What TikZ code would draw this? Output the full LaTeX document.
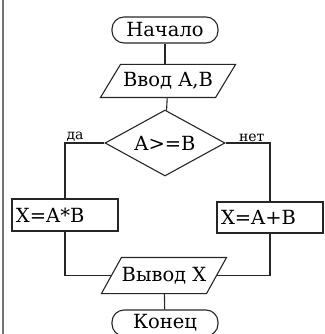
\documentclass[tikz,border=0pt]{standalone}
\usepackage{fontspec}
\setmainfont{DejaVu Serif}
\usetikzlibrary{shapes.geometric}

\begin{document}
\begin{tikzpicture}[x=1pt,y=-1pt,line width=1.1pt,draw=black!85,
  font=\fontsize{19.5}{22}\selectfont,
  term/.style={draw,rectangle,rounded corners=12pt,minimum width=106pt,minimum height=26pt,inner sep=0pt},
  io/.style={minimum width=114pt,minimum height=32pt,inner sep=0pt,
    append after command={\pgfextra{\draw ([xshift=10pt]\tikzlastnode.north west)
      -- ([xshift=10pt]\tikzlastnode.north east) -- ([xshift=-10pt]\tikzlastnode.south east)
      -- ([xshift=-10pt]\tikzlastnode.south west) -- cycle;}}},
  cond/.style={draw,diamond,aspect=1.8,minimum width=120pt,minimum height=66pt,inner sep=0pt},
  proc/.style={draw,rectangle,text width=98pt,align=left,inner sep=4pt,minimum height=32pt},
  lbl/.style={font=\fontsize{14}{16}\selectfont,inner sep=1pt}]
\useasboundingbox (0,0) rectangle (324,334);
\clip (0,0) rectangle (324,334);
\draw[black!55,line width=2pt] (2.5,0) -- (2.5,334);
% blocks
\node[term] (start) at (165,30) {Начало};
\node[io] (input) at (168,81) {Ввод A,B};
\node[cond] (check) at (165,143) {A>=B};
\node[proc] (mult) at (65,215) {X=A*B};
\node[proc,minimum height=31pt] (sum) at (270,217.5) {X=A+B};
\node[io,minimum width=104pt,minimum height=35pt] (output) at (164,275.5) {Вывод X};
\node[term] (finish) at (165,323) {Конец};
% connectors
\draw (start) -- (start |- input.north);
\draw (input) -- (check);
\draw (check.west) -| node[lbl,pos=0.5,anchor=south west] {да} (mult.north);
\draw (check.east) -| node[lbl,pos=0.5,anchor=south east,xshift=-4pt] {нет} (sum.north);
\draw (mult.south) |- (output.west);
\draw (sum.south) |- (output.east);
\draw (output) -- (finish);
\end{tikzpicture}
\end{document}
